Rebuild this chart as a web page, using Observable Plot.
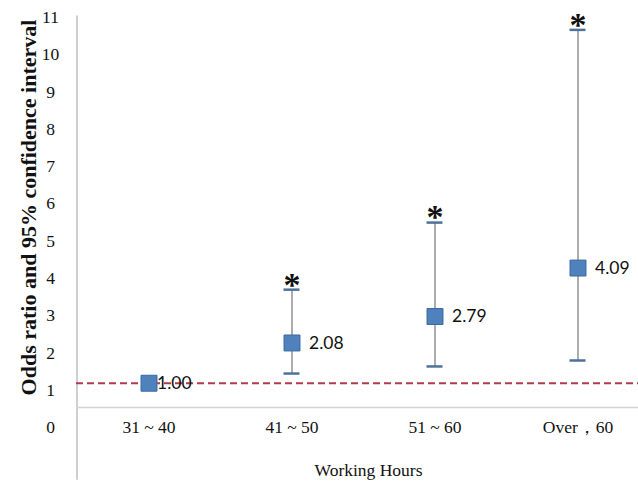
<!DOCTYPE html>
<html>
<head>
<meta charset="utf-8">
<script src="https://cdn.jsdelivr.net/npm/d3@7"></script>
<script src="https://cdn.jsdelivr.net/npm/@observablehq/plot@0.6"></script>
<style>
  html, body { margin: 0; padding: 0; background: #fff; }
  #chart svg { display: block; font-family: "Liberation Serif", serif; }
</style>
</head>
<body>
<div id="chart"></div>
<script>
const categories = ["31 ~ 40", "41 ~ 50", "51 ~ 60", "Over，60"];
const oddsRatio = [1.00, 2.08, 2.79, 4.09];
const lowerCI = [null, 1.26, 1.45, 1.61];
const upperCI = [null, 3.51, 5.31, 10.48];
const significant = [false, true, true, true];
const yTicks = [0, 1, 2, 3, 4, 5, 6, 7, 8, 9, 10, 11];
const referenceLine = 1;
const axisBase = 0.35;
const yTitle = "Odds ratio and 95% confidence interval";
const xTitle = "Working Hours";

const rows = categories.map((c, i) => ({
  cat: c, or: oddsRatio[i], lo: lowerCI[i], hi: upperCI[i], sig: significant[i],
  label: oddsRatio[i].toFixed(2)
}));
const withCI = rows.filter(d => d.lo != null);

const chart = Plot.plot({
  width: 638,
  height: 490,
  marginLeft: 76,
  marginRight: 0,
  marginTop: 10,
  marginBottom: 70,
  x: {type: "band", domain: categories, range: [76.5, 648.5], padding: 0, axis: null},
  y: {domain: [0, 11], axis: null},
  marks: [
    // left axis line
    Plot.ruleX([categories[0]], {dx: -72, y1: -1.6, y2: 10.85, stroke: "#bfbfbf", strokeWidth: 1.5}),
    // baseline
    Plot.ruleY([axisBase], {stroke: "#d4d4d4", strokeWidth: 1.5}),
    // reference dashed line
    Plot.ruleY([referenceLine], {stroke: "#b3394c", strokeWidth: 2, strokeDasharray: "7,4"}),
    // error bars
    Plot.ruleX(withCI, {x: "cat", y1: "lo", y2: "hi", stroke: "#acacac", strokeWidth: 2}),
    Plot.tickY(withCI, {x: "cat", y: "lo", stroke: "#4d7199", strokeWidth: 2.5, insetLeft: 63.5, insetRight: 63.5}),
    Plot.tickY(withCI, {x: "cat", y: "hi", stroke: "#4d7199", strokeWidth: 2.5, insetLeft: 63.5, insetRight: 63.5}),
    // significance asterisks
    Plot.text(rows.filter(d => d.sig), {x: "cat", y: "hi", text: () => "*", dy: -5, fontSize: 34, fontWeight: "bold", fill: "#111"}),
    // points
    Plot.dot(rows, {x: "cat", y: "or", symbol: "square", r: 9, fill: "#4f81bd", stroke: "#3b6aa0", strokeWidth: 1}),
    // value labels
    Plot.text(rows.slice(0, 1), {x: "cat", y: "or", text: "label", dx: 8, textAnchor: "start", fontSize: 17.5, fontFamily: "Lato, sans-serif", fill: "#111"}),
    Plot.text(rows.slice(1), {x: "cat", y: "or", text: "label", dx: 17, textAnchor: "start", fontSize: 17.5, fontFamily: "Lato, sans-serif", fill: "#111"}),
    // y tick labels
    Plot.text(yTicks, {y: d => d, text: d => String(d), frameAnchor: "left", dx: -26, dy: 7, textAnchor: "middle", fontSize: 17.5, fill: "#111"}),
    // x tick labels
    Plot.text(categories, {x: d => d, text: d => d, frameAnchor: "bottom", dy: 7, lineAnchor: "middle", fontSize: 17.5, fill: "#111"}),
    // y title
    Plot.text([yTitle], {text: d => d, frameAnchor: "left", textAnchor: "middle", rotate: -90, dx: -48, dy: -8, fontSize: 22, fontWeight: "bold", fill: "#111"}),
    // x title
    Plot.text([xTitle], {text: d => d, frameAnchor: "bottom", textAnchor: "middle", dx: 11, dy: 50, lineAnchor: "middle", fontSize: 17.5, fill: "#111"})
  ]
});
document.getElementById("chart").appendChild(chart);
</script>
</body>
</html>
